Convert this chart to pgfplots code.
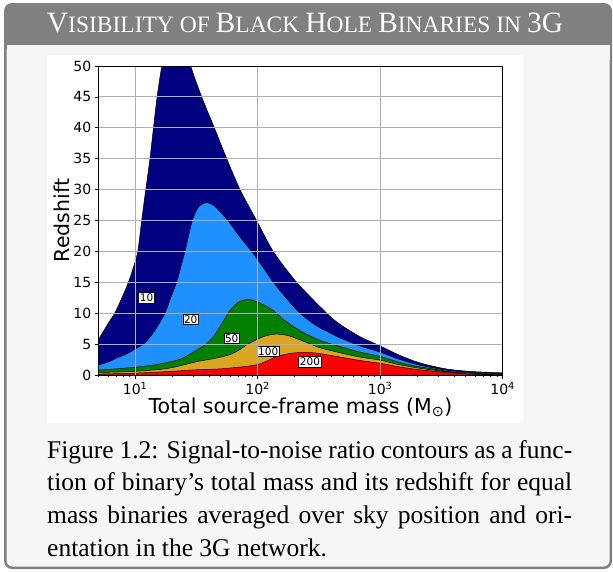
\documentclass[border=0pt]{standalone}
\usepackage{fontspec}
\setmainfont{Liberation Serif}
\newfontfamily\dejavu{DejaVu Sans}
\usepackage{pgfplots}
\pgfplotsset{compat=1.18}

\definecolor{framegray}{RGB}{128,128,128}
\definecolor{bodygray}{RGB}{246,246,246}
\definecolor{snrnavy}{RGB}{0,0,128}
\definecolor{snrblue}{RGB}{30,144,255}
\definecolor{snrgreen}{RGB}{0,128,0}
\definecolor{snrgold}{RGB}{218,165,32}
\definecolor{snrred}{RGB}{255,0,0}
\definecolor{gridgray}{RGB}{176,176,176}

\newcommand\bigc[1]{{\fontsize{29.5}{29.5}\selectfont #1}}
\newcommand\smc[1]{{\fontsize{23.5}{23.5}\selectfont #1}}

\begin{document}
\begin{tikzpicture}[x=1pt,y=1pt]
\useasboundingbox (0,0) rectangle (613,-571);
% box
\fill[framegray, rounded corners=8pt] (4,-3) rectangle (612,-569);
\fill[bodygray, rounded corners=6pt] (6.5,-45) rectangle (609.5,-566.5);
\fill[bodygray] (6.5,-45) rectangle (609.5,-60);
\fill[white] (47,-55) rectangle (523,-423);
\node[text=white, inner sep=0pt, anchor=base] at (305,-32)
  {\bigc{V}\smc{ISIBILITY OF }\bigc{B}\smc{LACK }\bigc{H}\smc{OLE }\bigc{B}\smc{INARIES IN }\bigc{3G}};

\begin{axis}[
    at={(98.3pt,-375pt)}, anchor=south west,
    scale only axis,
    width=404.4pt, height=309pt,
    xmode=log,
    xmin=5, xmax=10000,
    ymin=0, ymax=50,
    xtick={10,100,1000,10000},
    xticklabels={10\textsuperscript{1},10\textsuperscript{2},10\textsuperscript{3},10\textsuperscript{4}},
    minor xtick={5,6,7,8,9,20,30,40,50,60,70,80,90,200,300,400,500,600,700,800,900,2000,3000,4000,5000,6000,7000,8000,9000},
    ytick={0,5,...,50},
    tick align=outside,
    tick pos=left,
    major tick length=3.5pt,
    minor tick length=2pt,
    every tick/.style={black, line width=0.8pt},
    /pgf/number format/assume math mode=true,
    tick label style={font=\dejavu\fontsize{14}{14}\selectfont},
    label style={font=\dejavu\fontsize{20.5}{20.5}\selectfont},
    xlabel={Total source-frame mass (M\textsubscript{\char"2299})},
    ylabel={Redshift},
    xlabel style={yshift=4pt},
    ylabel style={yshift=-3pt},
    grid=major,
    major grid style={gridgray, line width=0.9pt},
    axis on top,
    axis line style={black, line width=1pt},
    clip=true,
    every axis plot/.append style={smooth, tension=0.5, draw=black, line width=0.5pt},
]
% SNR 10
\addplot[fill=snrnavy] coordinates {
 (5,5.7) (6,8.3) (6.8,10) (7.8,12.5) (8.8,15) (9.7,17.5) (10.5,20) (11.3,25)
 (12.2,30) (13.2,35) (14.1,40) (15.1,45) (16.5,50) (18.5,55) (21,57.5) (24.5,55)
 (28.4,50) (34.9,45) (44.3,40) (55.9,35) (71.8,30) (98,25) (134,20) (208,15)
 (366,10) (470,8.2) (684,6.2) (1000,4.7) (1400,3.3) (2000,2.1) (2800,1.35)
 (3700,0.9) (5750,0.55) (10000,0.35)
} \closedcycle;
% SNR 20
\addplot[fill=snrblue] coordinates {
 (5,1.6) (6,2.1) (7,2.7) (8.5,3.4) (10,4.2) (12,5.2) (14.5,7.2) (17.5,10)
 (19.5,12.5) (21.8,15) (23.6,17.5) (25.5,20) (29.3,25) (33,27.2) (38.4,27.9)
 (44,27.4) (50,26.3) (57,25) (70,22.6) (89,20) (110,17.5) (134,15) (170,12.5)
 (221,10) (300,8.0) (390,6.8) (470,6.0) (684,4.7) (1000,3.7) (1400,2.6)
 (2000,1.7) (2800,1.1) (3700,0.7) (5750,0.4) (10000,0.25)
} \closedcycle;
% SNR 50
\addplot[fill=snrgreen] coordinates {
 (5,0.8) (7,1.0) (10,1.25) (14,1.6) (17,1.9) (21,2.3) (25,2.8) (31.8,4.05)
 (38,5.0) (43.5,6.2) (50,8.0) (55,9.4) (59.4,10.5) (70,11.8) (84,12.25)
 (100,11.8) (126,10.8) (150,9.6) (172,8.6) (230,7.0) (323,5.6) (470,4.6)
 (684,3.7) (1000,3.0) (1400,2.1) (2000,1.4) (2800,0.95) (3700,0.55)
 (5750,0.3) (10000,0.18)
} \closedcycle;
% SNR 100
\addplot[fill=snrgold] coordinates {
 (5,0.4) (9.1,0.55) (15,0.85) (20,1.2) (31.8,2.15) (45,2.7) (59.4,3.3)
 (70,4.0) (81,4.85) (95,5.6) (111,6.2) (130,6.55) (148,6.6) (175,6.4)
 (208,5.9) (270,5.0) (323,4.4) (470,3.6) (684,2.9) (1000,2.4) (1400,1.7)
 (2000,1.15) (2800,0.75) (3700,0.45) (5750,0.25) (10000,0.12)
} \closedcycle;
% SNR 200
\addplot[fill=snrred] coordinates {
 (5,0.15) (10,0.3) (20,0.6) (31.8,0.85) (50,1.0) (81,1.4) (100,1.7)
 (120,2.3) (143,3.0) (180,3.45) (208,3.6) (250,3.65) (300,3.55) (350,3.35)
 (470,2.9) (684,2.35) (1000,1.9) (1400,1.35) (2000,0.9) (2800,0.6)
 (3700,0.35) (5750,0.16) (10000,0.05)
} \closedcycle;

\begin{scope}[every node/.style={fill=white, draw=black, line width=0.6pt,
   inner sep=1.2pt, font=\dejavu\fontsize{10.5}{10.5}\selectfont}]
\node at (axis cs:12.4,12.5) {10};
\node at (axis cs:28.4,9.0) {20};
\node at (axis cs:61.4,5.9) {50};
\node at (axis cs:122,3.8) {100};
\node at (axis cs:267,2.15) {200};
\end{scope}
\end{axis}

\node[anchor=base west, align=left, inner sep=0pt,
      font=\fontsize{25.5}{32.7}\selectfont] at (47,-556.1) {%
\makebox[525pt][s]{Figure 1.2: Signal-to-noise ratio contours as a func-}\\
\makebox[525pt][s]{tion of binary's total mass and its redshift for equal}\\
\makebox[525pt][s]{mass binaries averaged over sky position and ori-}\\
entation in the 3G network.};
\end{tikzpicture}
\end{document}
